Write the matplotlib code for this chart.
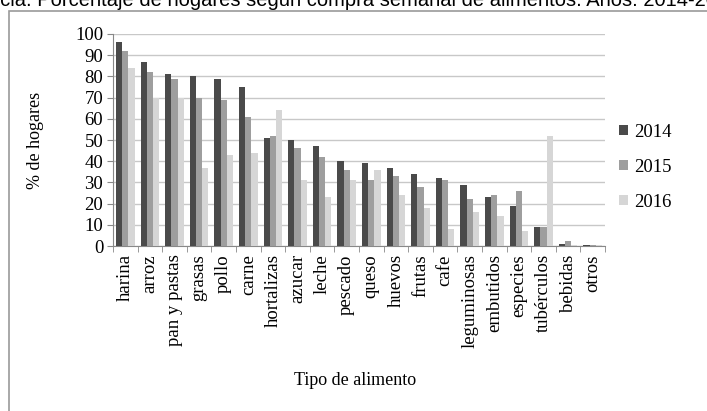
import numpy as np
import matplotlib
matplotlib.use("Agg")
import matplotlib.pyplot as plt
from matplotlib.patches import Rectangle

# Porcentaje de hogares que compran cada alimento semanalmente
categorias = ["harina", "arroz", "pan y pastas", "grasas", "pollo", "carne",
              "hortalizas", "azucar", "leche", "pescado", "queso", "huevos",
              "frutas", "cafe", "leguminosas", "embutidos", "especies",
              "tubérculos", "bebidas", "otros"]
anios = ["2014", "2015", "2016"]
v2014 = [96, 87, 81, 80, 79, 75, 51, 50, 47, 40, 39, 37, 34, 32, 29, 23, 19, 9, 1, 0.5]
v2015 = [92, 82, 79, 70, 69, 61, 52, 46, 42, 36, 31, 33, 28, 31, 22, 24, 26, 9, 2.5, 0.5]
v2016 = [84, 70, 70, 37, 43, 44, 64, 31, 23, 31, 36, 24, 18, 8, 16, 14, 7, 52, 0.5, 0.5]
colores = ["#4a4a4a", "#9e9e9e", "#d6d6d6"]

serif = ["Liberation Serif", "DejaVu Serif"]

fig = plt.figure(figsize=(7.07, 4.11), dpi=100)
ax = fig.add_axes([113 / 707, 1 - 246 / 411, 492 / 707, 212 / 411])

# marco del área del gráfico
fig.patches.append(Rectangle((9 / 707, -0.1), 1.2, 1 - 11 / 411 + 0.1,
                             transform=fig.transFigure, fill=False,
                             edgecolor="#9a9a9a", linewidth=1.2))

x = np.arange(len(categorias))
ancho = 0.25
for k, (serie, col, lab) in enumerate(zip([v2014, v2015, v2016], colores, anios)):
    ax.bar(x + (k - 1) * ancho, serie, ancho, color=col, label=lab,
           edgecolor="none", zorder=3)

ax.set_xlim(-0.5, len(categorias) - 0.5)
ax.set_ylim(0, 100)
ax.set_yticks(range(0, 101, 10))
ax.set_xticks(x)
ax.set_xticklabels(categorias, rotation=90, fontsize=13.5, family=serif)
ax.tick_params(axis="x", length=0, pad=6)
ax.set_xticks(np.arange(-0.5, len(categorias), 1), minor=True)
ax.tick_params(axis="x", which="minor", length=4, color="#888888")
ax.tick_params(axis="y", length=4, color="#888888", labelsize=13.5, pad=3)
for t in ax.get_yticklabels():
    t.set_family(serif)

ax.grid(axis="y", color="#c8c8c8", linewidth=1.0, zorder=0)
for s in ["top", "right"]:
    ax.spines[s].set_visible(False)
for s in ["left", "bottom"]:
    ax.spines[s].set_color("#888888")

fig.text(35 / 707, 1 - 140 / 411, "% de hogares", rotation=90, ha="center",
         va="center", fontsize=13, family=serif)
fig.text(355 / 707, 1 - 380 / 411, "Tipo de alimento", ha="center", va="center",
         fontsize=13, family=serif)

leg = ax.legend(loc="upper left", bbox_to_anchor=(0.995, 0.655), frameon=False,
                prop={"family": serif, "size": 13.5}, handlelength=0.45,
                handleheight=0.45, handletextpad=0.35, labelspacing=0.95)

fig.text(-0.016, 1.0, "ncia. Porcentaje de hogares según compra semanal de alimentos. Años: 2014-2016",
         ha="left", va="center", fontsize=14.5, family=["Liberation Sans", "DejaVu Sans"])

fig.savefig("out.png", dpi=100, facecolor="white")
